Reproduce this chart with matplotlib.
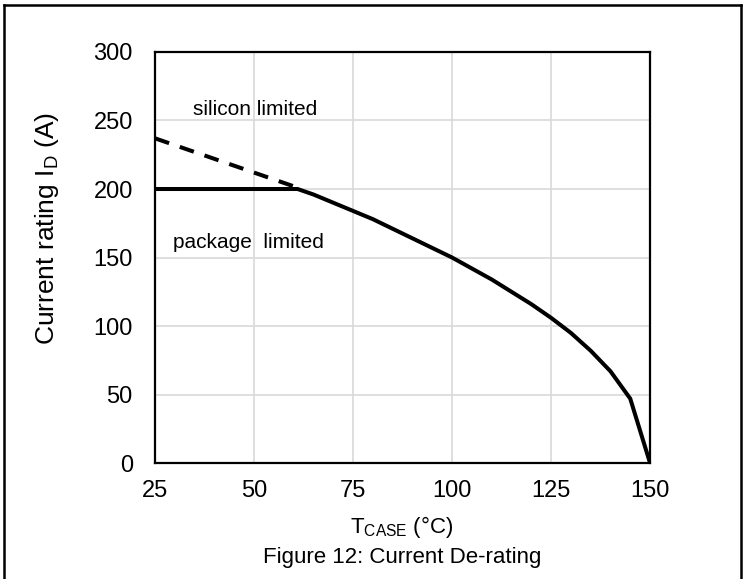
import matplotlib
matplotlib.use("Agg")
import matplotlib.pyplot as plt
from matplotlib.lines import Line2D

plt.rcParams['font.family'] = ['Liberation Sans', 'DejaVu Sans']
plt.rcParams['mathtext.fontset'] = 'custom'
plt.rcParams['mathtext.rm'] = 'Liberation Sans'
plt.rcParams['mathtext.it'] = 'Liberation Sans'

# package limited / derated current vs case temperature
t_case = [25, 61, 65, 70, 75, 80, 85, 90, 95, 100, 105, 110, 115, 120,
          125, 130, 135, 140, 145, 150]
i_rating = [200, 200, 196, 190, 184, 178, 171, 164, 157, 150, 142, 134,
            125, 116, 106, 95, 82, 67, 47, 0]

# silicon limited extension below the package limit
t_silicon = [25, 61]
i_silicon = [237, 201]

x_ticks = [25, 50, 75, 100, 125, 150]
y_ticks = [0, 50, 100, 150, 200, 250, 300]

fig = plt.figure(figsize=(7.47, 5.79), dpi=100)
ax = fig.add_axes([0.2075, 0.2003, 0.6627, 0.7099])

ax.plot(t_silicon, i_silicon, color='black', lw=2.9, ls=(0, (3.7, 2.8)))
ax.plot(t_case, i_rating, color='black', lw=2.9, solid_joinstyle='miter')

ax.set_xlim(25, 150)
ax.set_ylim(0, 300)
ax.set_xticks(x_ticks)
ax.set_yticks(y_ticks)
ax.grid(True, color='#d9d9d9', lw=1.2)
ax.set_axisbelow(True)
ax.tick_params(length=0, labelsize=17)
ax.tick_params(axis='y', pad=16)
ax.tick_params(axis='x', pad=12)
for sp in ax.spines.values():
    sp.set_color('black')
    sp.set_linewidth(1.6)

ax.text(34.5, 258, 'silicon limited', fontsize=15, va='center')
ax.text(29.5, 161, 'package  limited', fontsize=15, va='center')

fig.text(47 / 747, 1 - 228 / 579, r'Current rating I$_\mathrm{D}$ (A)',
         rotation=90, ha='center', va='center', fontsize=19)
fig.text(402 / 747, 1 - 527 / 579, r'T$_\mathrm{CASE}$ (°C)',
         ha='center', va='center', fontsize=16)
fig.text(402 / 747, 1 - 557 / 579, 'Figure 12: Current De-rating',
         ha='center', va='center', fontsize=16)

# outer frame: top, left and right edges
for xs, ys in [([4 / 747, 741 / 747], [1 - 5 / 579] * 2),
               ([4 / 747] * 2, [0, 1 - 5 / 579]),
               ([741 / 747] * 2, [0, 1 - 5 / 579])]:
    fig.add_artist(Line2D(xs, ys, color='black', lw=1.8))

fig.savefig('out.png', dpi=100)
